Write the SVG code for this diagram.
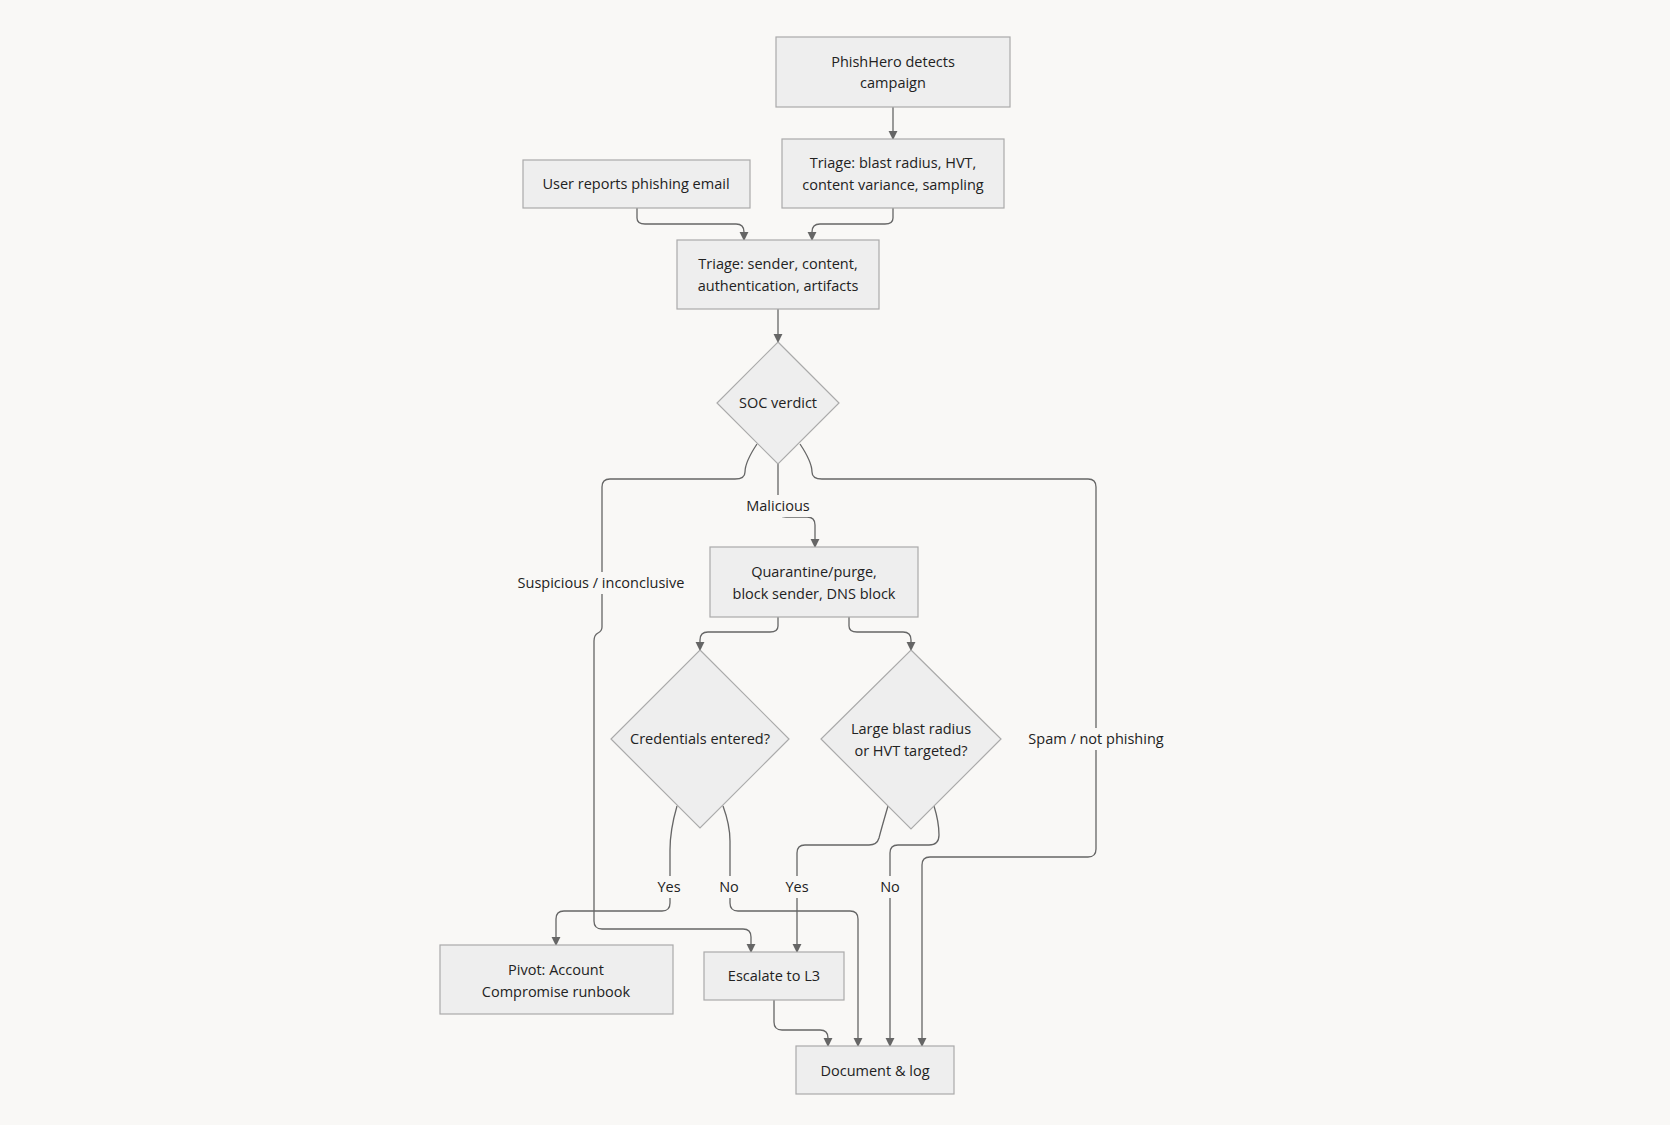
<svg xmlns="http://www.w3.org/2000/svg" width="1670" height="1125" viewBox="0 0 1670 1125">
<defs>
<marker id="a" viewBox="0 0 10 10" refX="9" refY="5" markerWidth="7" markerHeight="7" orient="auto"><path d="M0,0 L10,5 L0,10 z" fill="#666"/></marker>
<style>
.n{fill:#eeeeee;stroke:#aaaaaa;stroke-width:1.2}
.t{font-family:"Open Sans","Noto Sans",sans-serif;font-size:14.5px;fill:#222;text-anchor:middle}
.e{fill:none;stroke:#666;stroke-width:1.3;marker-end:url(#a)}
.lb{fill:#f9f8f6}
</style>
</defs>
<rect width="1670" height="1125" fill="#f9f8f6"/>
<g id="connectors">
<path class="e" d="M893,107 V139"/>
<path class="e" d="M637,208 V218 Q637,224 645,224 H736 Q744,224 744,232 V240"/>
<path class="e" d="M893,208 V218 Q893,224 885,224 H820 Q812,224 812,232 V240"/>
<path class="e" d="M778,309 V342"/>
<path class="e" d="M757,444 Q745,462 745,472 Q745,479 735,479 H610 Q602,479 602,487 V627 Q602,631 598,633 Q594,635 594,641 V921 Q594,929 602,929 H743 Q751,929 751,937 V952"/>
<path class="e" d="M778,463 V511 Q778,517 786,517 H807 Q815,517 815,525 V547"/>
<path class="e" d="M800,444 Q812,462 812,472 Q812,479 822,479 H1088 Q1096,479 1096,487 V849 Q1096,857 1088,857 H930 Q922,857 922,865 V1046"/>
<path class="e" d="M778,617 V626 Q778,632 770,632 H708 Q700,632 700,640 V650"/>
<path class="e" d="M849,617 V626 Q849,632 857,632 H903 Q911,632 911,640 V650"/>
<path class="e" d="M677,806 Q670,830 670,850 V903 Q670,911 662,911 H564 Q556,911 556,919 V945"/>
<path class="e" d="M723,806 Q730,825 730,841 V903 Q730,911 738,911 H850 Q858,911 858,919 V1046"/>
<path class="e" d="M888,806 Q881,830 879,838 Q877,845 869,845 H805 Q797,845 797,853 V952"/>
<path class="e" d="M934,806 Q939,822 939,835 Q939,845 929,845 H898 Q890,845 890,853 V1046"/>
<path class="e" d="M774,1000 V1022 Q774,1030 782,1030 H820 Q828,1030 828,1038 V1046"/>
</g>
<g id="labels">
<rect class="lb" x="518" y="572" width="166" height="22"/><text class="t" x="601" y="588">Suspicious / inconclusive</text>
<rect class="lb" x="745" y="495" width="66" height="22"/><text class="t" x="778" y="511">Malicious</text>
<rect class="lb" x="1031" y="728" width="130" height="22"/><text class="t" x="1096" y="744">Spam / not phishing</text>
<rect class="lb" x="655" y="876" width="28" height="22"/><text class="t" x="669" y="892">Yes</text>
<rect class="lb" x="717" y="876" width="24" height="22"/><text class="t" x="729" y="892">No</text>
<rect class="lb" x="783" y="876" width="28" height="22"/><text class="t" x="797" y="892">Yes</text>
<rect class="lb" x="878" y="876" width="24" height="22"/><text class="t" x="890" y="892">No</text>
</g>
<g id="phishhero"><rect class="n" x="776" y="37" width="234" height="70"/><text class="t" x="893" y="67">PhishHero detects</text><text class="t" x="893" y="88">campaign</text></g>
<g id="triage-hvt"><rect class="n" x="782" y="139" width="222" height="69"/><text class="t" x="893" y="168">Triage: blast radius, HVT,</text><text class="t" x="893" y="190">content variance, sampling</text></g>
<g id="user-reports"><rect class="n" x="523" y="160" width="227" height="48"/><text class="t" x="636" y="189">User reports phishing email</text></g>
<g id="triage-sender"><rect class="n" x="677" y="240" width="202" height="69"/><text class="t" x="778" y="269">Triage: sender, content,</text><text class="t" x="778" y="291">authentication, artifacts</text></g>
<g id="soc"><polygon class="n" points="778,342 839,403 778,464 717,403"/><text class="t" x="778" y="408">SOC verdict</text></g>
<g id="quarantine"><rect class="n" x="710" y="547" width="208" height="70"/><text class="t" x="814" y="577">Quarantine/purge,</text><text class="t" x="814" y="599">block sender, DNS block</text></g>
<g id="credentials"><polygon class="n" points="700,650 789,739 700,828 611,739"/><text class="t" x="700" y="744">Credentials entered?</text></g>
<g id="blast"><polygon class="n" points="911,650 1001,739 911,829 821,739"/><text class="t" x="911" y="734">Large blast radius</text><text class="t" x="911" y="756">or HVT targeted?</text></g>
<g id="pivot"><rect class="n" x="440" y="945" width="233" height="69"/><text class="t" x="556" y="975">Pivot: Account</text><text class="t" x="556" y="997">Compromise runbook</text></g>
<g id="escalate"><rect class="n" x="704" y="952" width="140" height="48"/><text class="t" x="774" y="981">Escalate to L3</text></g>
<g id="document"><rect class="n" x="796" y="1046" width="158" height="48"/><text class="t" x="875" y="1076">Document &amp; log</text></g>
</svg>
